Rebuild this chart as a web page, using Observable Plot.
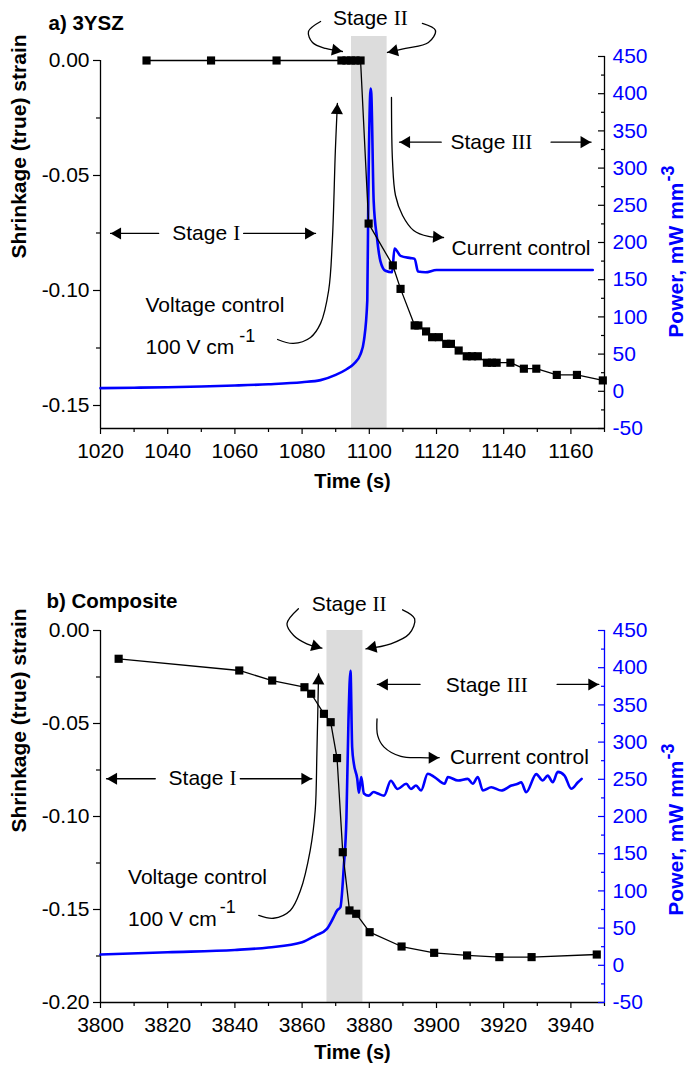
<!DOCTYPE html>
<html><head><meta charset="utf-8">
<script src="https://cdn.jsdelivr.net/npm/d3@7"></script>
<script src="https://cdn.jsdelivr.net/npm/@observablehq/plot@0.6"></script>
<style>body{margin:0;background:#fff;} svg{display:block;}</style>
</head><body><div id="chart"></div>
<script>
// ---------- Panel a) 3YSZ data ----------
const strainTimeA = [1033.7, 1052.9, 1072.4, 1091.7, 1093.2, 1094.6, 1095.9, 1097.4, 1099.8, 1107.0, 1109.3, 1113.5, 1114.6, 1116.9, 1118.7, 1120.7, 1122.9, 1124.3, 1126.6, 1129.0, 1130.6, 1132.3, 1135.0, 1136.5, 1137.9, 1142.0, 1146.0, 1149.7, 1155.8, 1161.8, 1169.5];
const strainA = [0, 0, 0, 0, 0, 0, 0, 0, -0.0709, -0.0891, -0.0993, -0.1152, -0.1152, -0.1178, -0.1203, -0.1203, -0.1232, -0.1232, -0.1261, -0.1286, -0.1286, -0.1286, -0.1314, -0.1314, -0.1314, -0.1314, -0.1340, -0.1340, -0.1367, -0.1367, -0.1391];
const powerTimeA = [1020, 1030, 1040, 1050, 1060, 1070, 1080, 1085.5, 1090, 1093, 1095.4, 1097.4, 1098.4, 1099.4, 1099.7, 1100.4, 1100.6, 1101.3, 1102.3, 1103.3, 1104.8, 1106.8, 1107.5, 1109.3, 1112.3, 1113.5, 1114.5, 1116.7, 1120, 1130, 1140, 1150, 1160, 1166.5];
const powerA = [4.2, 4.8, 5.5, 6.5, 7.8, 9.5, 12.2, 15, 22, 29, 37, 50, 68, 122, 256, 407, 400, 256, 206, 175, 162, 160, 192, 182, 179, 178, 161, 160, 163, 163, 163, 163, 163, 163];
const stageIIA = [1094.7, 1105.3];

// ---------- Panel b) Composite data ----------
const strainTimeB = [3805.4, 3841.3, 3851.1, 3860.7, 3862.7, 3866.5, 3868.5, 3870.4, 3872.1, 3874.1, 3876.1, 3880.1, 3889.6, 3899.3, 3909.1, 3918.7, 3928.3, 3947.7];
const strainB = [-0.0152, -0.0215, -0.0269, -0.0305, -0.034, -0.0448, -0.0493, -0.0686, -0.1192, -0.1505, -0.1523, -0.1622, -0.1699, -0.1733, -0.1747, -0.1756, -0.1756, -0.1742];
const powerTimeB = [3800, 3820, 3840, 3850, 3860, 3864, 3867.4, 3869.4, 3870.4, 3871.4, 3872.4, 3873.2, 3873.8, 3874.4, 3874.9, 3875.4, 3876.4, 3876.9, 3877.6, 3878.4, 3879.8, 3881.3, 3882.5, 3884.4, 3886.4, 3888.4, 3891, 3892.4, 3893.9, 3895.4, 3897.4, 3899.4, 3902.4, 3903.4, 3906.4, 3909.3, 3910.8, 3912.3, 3913.8, 3916.3, 3919.3, 3922.3, 3924.2, 3925.2, 3926.7, 3929.7, 3931.6, 3933.1, 3934.6, 3936.1, 3938.1, 3940.1, 3942.1, 3943.2];
const powerB = [14.5, 17.6, 20.6, 24, 31, 40, 49, 64.7, 73.7, 78, 132, 199, 329, 396, 293, 271, 251, 232, 253, 231, 228, 233, 231, 228, 248, 237, 244, 237, 241.6, 235, 257.4, 253, 244, 253, 248.4, 250.6, 244, 253, 235, 239.4, 235, 241.6, 244, 246, 232.6, 257, 248.4, 255, 246, 260, 255, 237.3, 246, 250.6];
const stageIIB = [3867.4, 3878.1];

// ---------- Ticks ----------
const xTicksA = [1020, 1040, 1060, 1080, 1100, 1120, 1140, 1160];
const xMinorA = [1030, 1050, 1070, 1090, 1110, 1130, 1150, 1170];
const xTicksB = [3800, 3820, 3840, 3860, 3880, 3900, 3920, 3940];
const xMinorB = [3810, 3830, 3850, 3870, 3890, 3910, 3930, 3950];
const strainTicksA = [0, -0.05, -0.10, -0.15];
const strainMinorA = [-0.025, -0.075, -0.125];
const strainTicksB = [0, -0.05, -0.10, -0.15, -0.20];
const strainMinorB = [-0.025, -0.075, -0.125, -0.175];
const powerTicks = [-50, 0, 50, 100, 150, 200, 250, 300, 350, 400, 450];
const powerMinor = [-25, 25, 75, 125, 175, 225, 275, 325, 375, 425];

// ---------- Annotations (time, strain) ----------
const labelsA = [
  {t: 1105.5, s: 0.0185, text: "Stage", anchor: "end"},
  {t: 1105.5, s: 0.0185, text: "II", anchor: "start", serif: true, dx: 6},
  {t: 1057.7, s: -0.0752, text: "Stage", anchor: "end"},
  {t: 1057.7, s: -0.0752, text: "I", anchor: "start", serif: true, dx: 6},
  {t: 1140.5, s: -0.0355, text: "Stage", anchor: "end"},
  {t: 1140.5, s: -0.0355, text: "III", anchor: "start", serif: true, dx: 6},
  {t: 1124.5, s: -0.0817, text: "Current control", anchor: "start"},
  {t: 1033.4, s: -0.1065, text: "Voltage control", anchor: "start"},
  {t: 1033.4, s: -0.1248, text: "100 V cm", anchor: "start"},
  {t: 1061.3, s: -0.1200, text: "-1", anchor: "start", size: 18}
];
const arrowsA = [
  {curved: true, pts: [[1085.5, 0.01696], [1081.9, 0.01261], [1083.1, 0.00783], [1087.0, 0.00522], [1092.0, 0.00391]]},
  {curved: true, pts: [[1115.8, 0.01609], [1119.7, 0.01304], [1117.6, 0.00783], [1110.8, 0.00522], [1105.4, 0.00348]]},
  {curved: false, pts: [[1037.3, -0.0752], [1023.0, -0.0752]]},
  {curved: false, pts: [[1062.6, -0.0752], [1084.0, -0.0752]]},
  {curved: false, pts: [[1121.4, -0.0355], [1109.0, -0.0355]]},
  {curved: false, pts: [[1154.1, -0.0355], [1166.0, -0.0355]]},
  {curved: true, pts: [[1106.6, -0.01609], [1106.9, -0.04348], [1107.8, -0.0587], [1109.9, -0.06739], [1113.2, -0.07391], [1117.6, -0.07652], [1122.1, -0.07696]]},
  {curved: true, pts: [[1072.7, -0.1213], [1077.4, -0.1230], [1082.5, -0.1204], [1085.5, -0.1143], [1087.9, -0.1000], [1089.0, -0.0783], [1089.9, -0.0391], [1090.5, -0.0187]]}
];
const labelsB = [
  {t: 3879.2, s: 0.0140, text: "Stage", anchor: "end"},
  {t: 3879.2, s: 0.0140, text: "II", anchor: "start", serif: true, dx: 6},
  {t: 3836.6, s: -0.0797, text: "Stage", anchor: "end"},
  {t: 3836.6, s: -0.0797, text: "I", anchor: "start", serif: true, dx: 6},
  {t: 3919.1, s: -0.0292, text: "Stage", anchor: "end"},
  {t: 3919.1, s: -0.0292, text: "III", anchor: "start", serif: true, dx: 6},
  {t: 3904.0, s: -0.0684, text: "Current control", anchor: "start"},
  {t: 3808.2, s: -0.1326, text: "Voltage control", anchor: "start"},
  {t: 3808.2, s: -0.1550, text: "100 V cm", anchor: "start"},
  {t: 3835.5, s: -0.1489, text: "-1", anchor: "start", size: 18}
];
const arrowsB = [
  {curved: true, pts: [[3858.9, 0.01167], [3855.5, 0.0036], [3857.5, -0.00269], [3861.4, -0.00715], [3865.9, -0.00952]]},
  {curved: true, pts: [[3889.9, 0.01113], [3893.5, 0.00629], [3891.9, -0.00177], [3886.4, -0.00715], [3879.0, -0.00984]]},
  {curved: false, pts: [[3816.3, -0.0797], [3801.8, -0.0797]]},
  {curved: false, pts: [[3841.6, -0.0797], [3862.9, -0.0797]]},
  {curved: false, pts: [[3895.1, -0.029], [3882.4, -0.029]]},
  {curved: false, pts: [[3935.9, -0.029], [3948.3, -0.029]]},
  {curved: true, pts: [[3882.3, -0.0475], [3882.5, -0.0565], [3884.4, -0.0627], [3889.4, -0.0677], [3895.1, -0.0684], [3900.8, -0.0684]]},
  {curved: true, pts: [[3847.1, -0.1532], [3851.5, -0.1547], [3856.5, -0.1505], [3859.5, -0.1398], [3862.4, -0.1183], [3863.9, -0.0968], [3864.4, -0.0663], [3864.9, -0.0233]]}
];

const POWER_DOMAIN = [-50, 450];
const SANS = "'Liberation Sans', Arial, Helvetica, sans-serif";
const SERIF = "'Liberation Serif', 'Times New Roman', serif";
const BLUE = "#0000ff";

function buildPanel(P) {
  const W = 688, H = 537, m = P.margin;
  const xs = Plot.scale({x: {domain: P.xDomain, range: [m.left, W - m.right]}});
  const ys = Plot.scale({y: {domain: P.yDomain, range: [H - m.bottom, m.top]}});
  const p2s = d3.scaleLinear().domain(POWER_DOMAIN).range(P.powerInStrain);
  const strain = P.strainTime.map((t, i) => ({t, v: P.strain[i]}));
  const power = P.powerTime.map((t, i) => ({t, v: p2s(P.power[i])}));
  const marks = [];
  marks.push(Plot.rect([{x1: P.band[0], x2: P.band[1]}], {x1: "x1", x2: "x2", y1: P.yDomain[0], y2: P.yDomain[1], fill: "#dcdcdc"}));
  marks.push(Plot.ruleX([P.xDomain[0]], {y1: P.leftAxisExtent[0], y2: P.leftAxisExtent[1], stroke: "black", strokeWidth: 1.3}));
  marks.push(Plot.ruleY([P.yDomain[0]], {x1: P.xDomain[0], x2: P.xDomain[1], stroke: "black", strokeWidth: 1.3}));
  marks.push(Plot.ruleX([P.xDomain[1]], {y1: p2s(POWER_DOMAIN[0]), y2: p2s(POWER_DOMAIN[1]), stroke: P.rightAxisColor, strokeWidth: 1.3}));
  marks.push(Plot.axisY(P.strainTicks, {anchor: "left", tickSize: 7, tickPadding: 4, tickFormat: d => d.toFixed(2), fontSize: 21, fontFamily: SANS, color: "black", label: null, strokeWidth: 1.2}));
  marks.push(Plot.axisY(P.strainMinor, {anchor: "left", tickSize: 4, tickFormat: () => "", color: "black", label: null, strokeWidth: 1.2}));
  marks.push(Plot.axisX(P.xTicks, {anchor: "bottom", tickSize: 6, tickPadding: 9, tickFormat: d => String(d), fontSize: 21, fontFamily: SANS, color: "black", label: null, strokeWidth: 1.2}));
  marks.push(Plot.axisX(P.xMinor, {anchor: "bottom", tickSize: 4, tickFormat: () => "", color: "black", label: null, strokeWidth: 1.2}));
  const pt = powerTicks.map(p => p2s(p));
  const pm = powerMinor.map(p => p2s(p));
  marks.push(Plot.axisY(pt, {anchor: "right", tickSize: 7, dx: -7, tickFormat: () => "", color: P.rightAxisColor, label: null, strokeWidth: 1.2}));
  marks.push(Plot.axisY(pm, {anchor: "right", tickSize: 4, dx: -4, tickFormat: () => "", color: P.rightAxisColor, label: null, strokeWidth: 1.2}));
  marks.push(Plot.axisY(pt, {anchor: "right", tickSize: 0, tickPadding: 8, tickFormat: d => String(Math.round(p2s.invert(d))), fontSize: 21, fontFamily: SANS, color: BLUE, label: null}));
  marks.push(Plot.line(power, {x: "t", y: "v", stroke: BLUE, strokeWidth: 2.6, curve: "monotone-x"}));
  marks.push(Plot.line(strain, {x: "t", y: "v", stroke: "black", strokeWidth: 1.3}));
  marks.push(Plot.dot(strain, {x: "t", y: "v", symbol: "square", r: 4.6, fill: "black", stroke: "none"}));
  const heads = [];
  for (const a of P.arrows) {
    marks.push(Plot.line(a.pts, {x: d => d[0], y: d => d[1], curve: a.curved ? "catmull-rom" : "linear", stroke: "black", strokeWidth: 1.3}));
    const [t1, s1] = a.pts[a.pts.length - 2], [t2, s2] = a.pts[a.pts.length - 1];
    const x1 = xs.apply(t1), y1 = ys.apply(s1), x2 = xs.apply(t2), y2 = ys.apply(s2);
    const L = Math.hypot(x2 - x1, y2 - y1), ux = (x2 - x1) / L, uy = (y2 - y1) / L;
    heads.push({t: xs.invert(x2 - 7 * ux), s: ys.invert(y2 - 7 * uy), angle: Math.atan2(ux, -uy) * 180 / Math.PI});
  }
  marks.push(Plot.dot(heads, {x: "t", y: "s", symbol: "triangle", r: 4.5, fill: "black", stroke: "none", rotate: "angle"}));
  for (const l of P.labels) {
    marks.push(Plot.text([l], {x: "t", y: "s", text: "text", textAnchor: l.anchor, fontSize: l.size || 21, fontFamily: l.serif ? SERIF : SANS, dx: l.dx || 0, fill: "black"}));
  }
  marks.push(Plot.text([P.title], {frameAnchor: "top-left", textAnchor: "start", dx: P.titleDx, dy: P.titleDy, fontSize: 20.5, fontWeight: "bold", fontFamily: SANS, fill: "black"}));
  marks.push(Plot.text(["Time (s)"], {frameAnchor: "bottom", dy: P.timeDy, fontSize: 20, fontWeight: "bold", fontFamily: SANS, fill: "black"}));
  marks.push(Plot.text(["Shrinkage (true) strain"], {frameAnchor: "left", rotate: -90, dx: -81.5, dy: P.leftLabelDy, fontSize: 21, fontWeight: "bold", fontFamily: SANS, fill: "black"}));
  marks.push(Plot.text(["Power, mW mm"], {frameAnchor: "right", rotate: -90, textAnchor: "end", dx: 72, dy: P.rightLabelDy, fontSize: 21, fontWeight: "bold", fontFamily: SANS, fill: BLUE}));
  marks.push(Plot.text(["-3"], {frameAnchor: "right", rotate: -90, textAnchor: "start", dx: 64, dy: P.rightLabelDy - 1, fontSize: 18, fontWeight: "bold", fontFamily: SANS, fill: BLUE}));

  return Plot.plot({
    width: W, height: H,
    marginTop: m.top, marginBottom: m.bottom, marginLeft: m.left, marginRight: m.right,
    x: {domain: P.xDomain},
    y: {domain: P.yDomain},
    style: {fontFamily: SANS, fontSize: "21px", color: "black", background: "white", overflow: "visible"},
    marks
  });
}

const svgA = buildPanel({
  margin: {top: 36, bottom: 109, left: 100, right: 84},
  xDomain: [1020, 1170], yDomain: [-0.16, 0.01043],
  powerInStrain: [-0.16, 0.00174],
  leftAxisExtent: [-0.16, 0],
  rightAxisColor: "black",
  band: stageIIA,
  strainTime: strainTimeA, strain: strainA, powerTime: powerTimeA, power: powerA,
  xTicks: xTicksA, xMinor: xMinorA, strainTicks: strainTicksA, strainMinor: strainMinorA,
  labels: labelsA, arrows: arrowsA,
  title: "a) 3YSZ", titleDx: -52, titleDy: -21.5, timeDy: 59, leftLabelDy: 26, rightLabelDy: -50
});
const svgB = buildPanel({
  margin: {top: 93, bottom: 72, left: 100, right: 84},
  xDomain: [3800, 3950], yDomain: [-0.2, 0],
  powerInStrain: [-0.2, 0],
  leftAxisExtent: [-0.2, 0],
  rightAxisColor: BLUE,
  band: stageIIB,
  strainTime: strainTimeB, strain: strainB, powerTime: powerTimeB, power: powerB,
  xTicks: xTicksB, xMinor: xMinorB, strainTicks: strainTicksB, strainMinor: strainMinorB,
  labels: labelsB, arrows: arrowsB,
  title: "b) Composite", titleDx: -54, titleDy: -37, timeDy: 56, leftLabelDy: 16, rightLabelDy: -56
});
document.getElementById("chart").append(svgA, svgB);
</script></body></html>
